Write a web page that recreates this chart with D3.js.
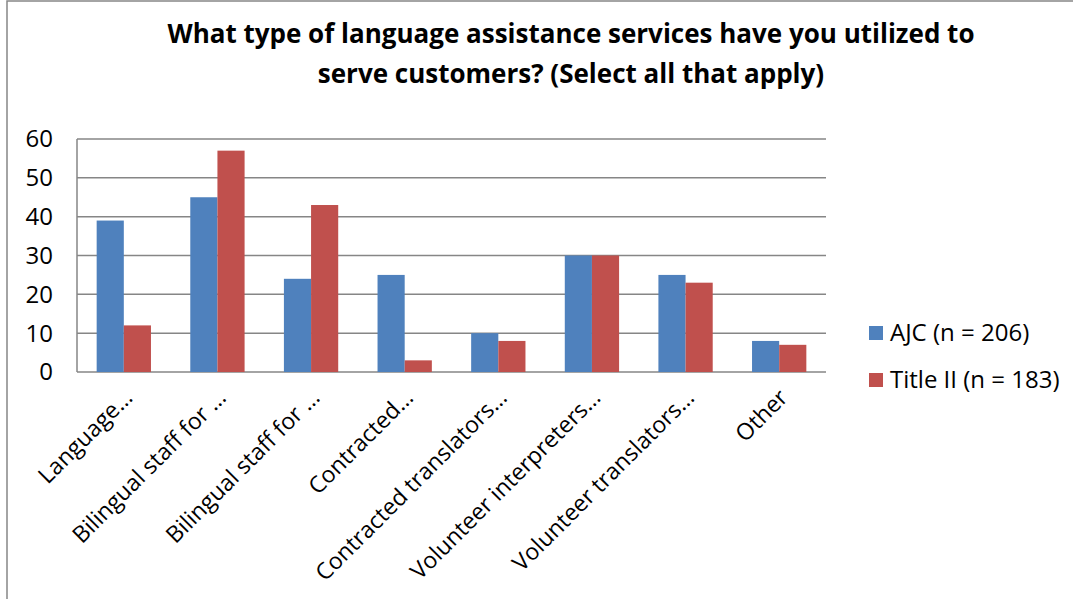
<!DOCTYPE html>
<html>
<head>
<meta charset="utf-8">
<script src="https://cdn.jsdelivr.net/npm/d3@7"></script>
<style>
  body { margin: 0; background: #fff; }
  svg { display: block; font-family: "Open Sans", "Noto Sans", sans-serif; }
</style>
</head>
<body>
<script>
// chart data
var categories = ["Language…", "Bilingual staff for …", "Bilingual staff for …", "Contracted…",
                  "Contracted translators…", "Volunteer interpreters…", "Volunteer translators…", "Other"];
var seriesNames = ["AJC (n = 206)", "Title II (n = 183)"];
var ajcValues = [39, 45, 24, 25, 10, 30, 25, 8];
var titleValues = [12, 57, 43, 3, 8, 30, 23, 7];
var yTicks = [0, 10, 20, 30, 40, 50, 60];
var titleLines = ["What type of language assistance services have you utilized to",
                  "serve customers? (Select all that apply)"];

var colors = ["#4F81BD", "#C0504D"];

var W = 1073, H = 599;
var margin = {top: 139, right: 247, bottom: 227, left: 77},
    width = W - margin.left - margin.right,
    height = H - margin.top - margin.bottom;

var data = categories.map(function(c, i) {
  return {name: c, idx: i, values: [ajcValues[i], titleValues[i]]};
});

var svg = d3.select("body").append("svg")
    .attr("width", W)
    .attr("height", H);

// outer chart border
svg.append("rect")
    .attr("x", 7).attr("y", 1)
    .attr("width", W + 10).attr("height", H + 10)
    .attr("fill", "none")
    .attr("stroke", "#868686")
    .attr("stroke-width", 1.5);

// title
svg.append("text")
    .attr("x", 571)
    .attr("text-anchor", "middle")
    .style("font-weight", "bold")
    .style("font-size", "26px")
    .selectAll("tspan")
    .data(titleLines)
    .enter().append("tspan")
    .attr("x", 571)
    .attr("y", function(d, i) { return 43 + i * 40; })
    .text(function(d) { return d; });

var g = svg.append("g")
    .attr("transform", "translate(" + margin.left + "," + margin.top + ")");

var x0 = d3.scaleBand().domain(d3.range(categories.length)).range([0, width]).paddingInner(0.42).paddingOuter(0.21);
var x1 = d3.scaleBand().domain([0, 1]).range([0, x0.bandwidth()]);
var y = d3.scaleLinear().domain([0, 60]).range([height, 0]);

// gridlines
g.selectAll(".grid")
    .data(yTicks)
    .enter().append("line")
    .attr("x1", 0).attr("x2", width)
    .attr("y1", function(d) { return y(d); })
    .attr("y2", function(d) { return y(d); })
    .attr("stroke", "#868686")
    .attr("stroke-width", 1.5);

// y axis line
g.append("line")
    .attr("x1", 0).attr("x2", 0)
    .attr("y1", 0).attr("y2", height)
    .attr("stroke", "#868686")
    .attr("stroke-width", 1.5);

// y tick labels
g.selectAll(".ytick")
    .data(yTicks)
    .enter().append("text")
    .attr("x", -24)
    .attr("y", function(d) { return y(d); })
    .attr("dy", "0.35em")
    .attr("text-anchor", "end")
    .style("font-size", "24px")
    .attr("fill", "#000")
    .text(function(d) { return d; });

// bars
var groups = g.selectAll(".group")
    .data(data)
    .enter().append("g")
    .attr("transform", function(d) { return "translate(" + x0(d.idx) + ",0)"; });

groups.selectAll("rect")
    .data(function(d) { return d.values.map(function(v, k) { return {k: k, v: v}; }); })
    .enter().append("rect")
    .attr("x", function(d) { return x1(d.k); })
    .attr("width", x1.bandwidth())
    .attr("y", function(d) { return y(d.v); })
    .attr("height", function(d) { return height - y(d.v); })
    .attr("fill", function(d) { return colors[d.k]; });

// x axis labels, rotated
g.selectAll(".xlabel")
    .data(data)
    .enter().append("text")
    .attr("transform", function(d) {
      var cx = x0(d.idx) + x0.bandwidth() / 2 + 10;
      return "translate(" + cx + "," + (height + 27) + ") rotate(-45)";
    })
    .attr("text-anchor", "end")
    .style("font-size", "23px")
    .attr("fill", "#000")
    .text(function(d) { return d.name; });

// legend
var legend = svg.append("g")
    .attr("transform", "translate(869,333)");

var items = legend.selectAll(".item")
    .data(seriesNames)
    .enter().append("g")
    .attr("transform", function(d, i) { return "translate(0," + (i * 47) + ")"; });

items.append("rect")
    .attr("x", 0).attr("y", -7)
    .attr("width", 14).attr("height", 14)
    .attr("fill", function(d, i) { return colors[i]; });

items.append("text")
    .attr("x", 21)
    .attr("dy", "0.35em")
    .style("font-size", "24px")
    .attr("fill", "#000")
    .text(function(d) { return d; });
</script>
</body>
</html>
